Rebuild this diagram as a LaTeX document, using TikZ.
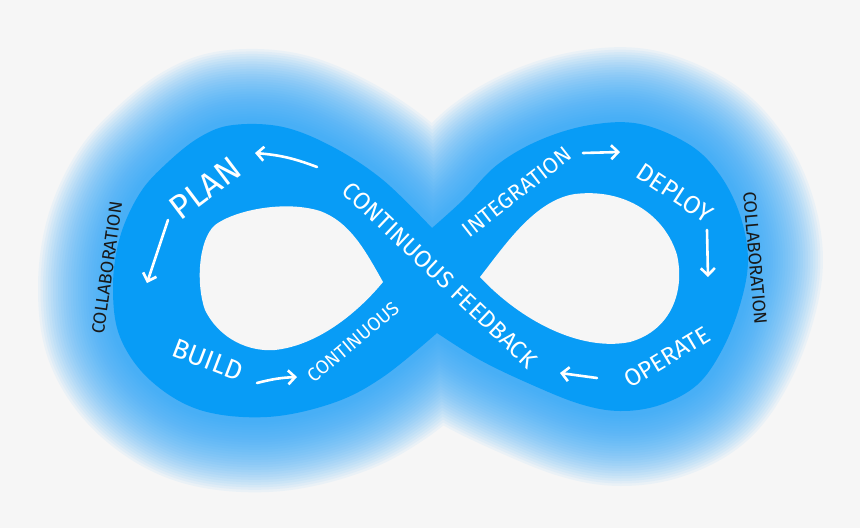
\documentclass[tikz,border=0pt]{standalone}
\usepackage{fontspec}
\setmainfont{Fira Sans}
\usepackage{tikz}
\usetikzlibrary{arrows.meta}
\definecolor{bgwhite}{RGB}{246,246,246}
\definecolor{bandblue}{RGB}{8,156,246}
\definecolor{glowblue}{RGB}{40,165,248}
\definecolor{inkblack}{RGB}{25,25,25}

% outline of the figure eight, in pixel coordinates
\newcommand{\eightpath}{plot[smooth, tension=0.6] coordinates {(437,333) (383,377) (333,403) (267,417) (200,410) (150,380) (120,337) (113,287) (120,237) (140,193) (167,163) (200,137) (233,125) (283,127) (333,147) (383,180) (432,228)}
  -- plot[smooth, tension=0.6] coordinates {(432,228) (463,200) (497,165) (540,140) (590,125) (640,124) (690,145) (720,175) (740,215) (748,260) (740,305) (722,350) (697,385) (660,405) (620,411) (580,404) (530,384) (480,360) (437,333)} -- cycle}

\begin{document}
\begin{tikzpicture}[x=1pt, y=-1pt,
  band/.style={fill=bandblue},
  glowring/.style={draw=glowblue, line join=round, draw opacity=0.055},
  hole/.style={fill=bgwhite},
  lbl/.style={text=white, inner sep=0pt},
  collab/.style={text=inkblack, inner sep=0pt, font=\fontsize{18}{18}\selectfont},
  arr/.style={draw=white, line width=2.6pt, line cap=round,
    -{Straight Barb[length=7pt, width=14pt]}},
]

\useasboundingbox (0,0) rectangle (860,528);
\fill[bgwhite] (0,0) rectangle (860,528);

% glow and band
\foreach \w in {150,145,...,10}
  \draw[glowring, line width=\w pt] \eightpath;
\fill[band] \eightpath;

% the two holes
\fill[hole] (383,282) .. controls (365,250) and (350,222) .. (320,211)
  .. controls (285,200) and (235,210) .. (215,225)
  .. controls (198,240) and (196,285) .. (205,310)
  .. controls (220,340) and (250,352) .. (275,350)
  .. controls (320,345) and (360,310) .. (383,282) -- cycle;
\fill[hole] (480,277) .. controls (505,245) and (535,200) .. (575,194)
  .. controls (625,188) and (665,215) .. (677,255)
  .. controls (685,290) and (672,330) .. (630,342)
  .. controls (580,352) and (520,320) .. (480,277) -- cycle;

% labels on the band
\node[lbl, font=\fontsize{34}{34}\selectfont, rotate=37]   (plan)   at (205,188) {PLAN};
\node[lbl, font=\fontsize{27}{27}\selectfont, rotate=-21]  (build)  at (208,360) {BUILD};
\node[lbl, font=\fontsize{19}{19}\selectfont, rotate=40]   (contlow) at (353,342) {CONTINUOUS};
\node[lbl, font=\fontsize{24}{24}\selectfont, rotate=-43.5] (feedback) at (440,275) {CONTINUOUS FEEDBACK};
\node[lbl, font=\fontsize{22}{22}\selectfont, rotate=38]   (integ)  at (517,192) {INTEGRATION};
\node[lbl, font=\fontsize{25}{25}\selectfont, rotate=-33]  (deploy) at (675,193) {DEPLOY};
\node[lbl, font=\fontsize{24}{24}\selectfont, rotate=31]   (operate) at (667,357) {OPERATE};

% collaboration on both sides
\node[collab, rotate=82]  (collabL) at (107,268) {COLLABORATION};
\node[collab, rotate=-85] (collabR) at (755,258) {COLLABORATION};

% arrows between the steps
\coordinate (a1s) at (317,167); \coordinate (a1e) at (255,153);
\coordinate (a2s) at (168,220); \coordinate (a2e) at (147,283);
\coordinate (a3s) at (257,383); \coordinate (a3e) at (297,377);
\coordinate (a4s) at (583,153); \coordinate (a4e) at (620,152);
\coordinate (a5s) at (707,230); \coordinate (a5e) at (708,277);
\coordinate (a6s) at (597,378); \coordinate (a6e) at (560,373);

\draw[arr] (a1s) to[bend right=8] (a1e);
\draw[arr] (a2s) -- (a2e);
\draw[arr] (a3s) to[bend left=6] (a3e);
\draw[arr] (a4s) -- (a4e);
\draw[arr] (a5s) -- (a5e);
\draw[arr] (a6s) -- (a6e);
\end{tikzpicture}
\end{document}
